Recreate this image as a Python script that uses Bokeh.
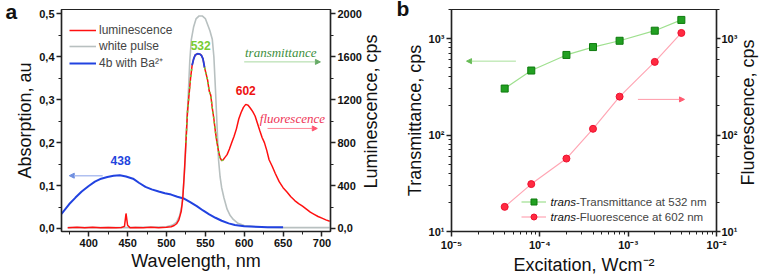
import math
from bokeh.plotting import figure
from bokeh.models import (Range1d, LinearAxis, LogAxis, SingleIntervalTicker, LogTicker, LogScale,
                          CustomJSTickFormatter, Legend, LegendItem, Label, Arrow, NormalHead)
from bokeh.layouts import row
from bokeh.embed import file_html
from bokeh.resources import INLINE

# ---------------- panel a data ----------------
lum_wl = [373, 385, 395, 405, 415, 425, 435, 442, 446, 448, 450, 453, 460, 470, 480, 490, 500, 506, 510,
          513, 516, 519, 521, 523, 525, 527, 529, 531, 533, 535, 537, 540, 543, 545, 547, 549, 551, 553,
          555, 557, 559, 561, 563, 565, 567, 569, 571, 573, 575, 578, 581, 584, 587, 590, 593, 596, 599,
          602, 605, 608, 611, 614, 617, 620, 623, 626, 629, 632, 636, 640, 645, 650, 655, 660, 665, 670,
          675, 680, 685, 690, 695, 700, 705, 710]
lum_cps = [8, 12, 6, 12, 8, 10, 6, 10, 20, 140, 30, 8, 10, 6, 12, 8, 12, 16, 28,
           44, 80, 160, 280, 520, 800, 1080, 1240, 1400, 1520, 1580, 1616, 1628, 1624, 1612, 1580, 1500, 1440, 1380,
           1280, 1240, 1120, 1020, 900, 800, 720, 660, 632, 640, 660, 688, 740, 800, 860, 928, 1020, 1080, 1128,
           1156, 1148, 1120, 1088, 1048, 980, 912, 848, 800, 728, 640, 580, 512, 436, 380, 340, 296, 260, 232,
           208, 180, 152, 132, 112, 96, 80, 68]

pulse_wl = [373, 400, 450, 500, 508, 513, 517, 520, 522, 524, 526, 528, 530, 532, 535, 538, 542, 546, 550,
            554, 556, 559, 561, 563, 565, 567, 569, 571, 574, 578, 582, 586, 592, 600, 620, 650, 680, 710]
pulse_cps = [8, 8, 8, 16, 32, 60, 120, 220, 400, 620, 940, 1240, 1560, 1760, 1880, 1952, 1980, 1980, 1956,
             1880, 1840, 1760, 1600, 1300, 968, 640, 480, 380, 284, 180, 120, 84, 48, 28, 12, 8, 8, 8]

abs_wl = [365, 375, 383, 391, 400, 408, 416, 424, 432, 440, 448, 457, 465, 473, 481, 490, 498, 506, 514,
          522, 530, 539, 547, 555, 563, 571, 580, 588, 600, 615, 630, 650]
abs_au = [0.034, 0.057, 0.072, 0.086, 0.099, 0.109, 0.116, 0.120, 0.123, 0.124, 0.121, 0.116, 0.106, 0.097,
          0.091, 0.086, 0.082, 0.079, 0.074, 0.070, 0.062, 0.052, 0.042, 0.033, 0.025, 0.018, 0.012, 0.008,
          0.005, 0.004, 0.003, 0.003]

# ---------------- panel b data ----------------
exc = [4e-5, 8e-5, 2e-4, 4e-4, 8e-4, 2e-3, 4e-3]
trans_cps = [303, 466, 676, 816, 948, 1206, 1560]
fluor_cps = [18, 31, 57, 116, 250, 573, 1143]

SANS = "Liberation Sans"
SERIF = "Liberation Serif"


def style_axis(ax):
    ax.axis_line_width = 1.5
    ax.axis_line_color = "#222222"
    ax.major_tick_line_width = 1.5
    ax.major_tick_line_color = "#222222"
    ax.minor_tick_line_width = 1
    ax.minor_tick_line_color = "#222222"
    ax.major_tick_out = 5
    ax.major_tick_in = 0
    ax.minor_tick_out = 3
    ax.minor_tick_in = 0
    ax.major_label_text_font = SANS
    ax.major_label_text_font_size = "11px"
    ax.major_label_text_font_style = "bold"
    ax.major_label_text_color = "#111111"
    ax.axis_label_text_font = SANS
    ax.axis_label_text_font_size = "18px"
    ax.axis_label_text_font_style = "normal"
    ax.axis_label_text_color = "#111111"
    ax.axis_label_standoff = 1
    ax.major_label_standoff = 2


def side_label(p, side, x, y, text, **kw):
    p.add_layout(Label(x=x, y=y, x_units="screen", y_units="screen", text=text, **kw), side)


# ================= panel a =================
pa = figure(width=388, height=277, output_backend="svg", toolbar_location=None,
            x_range=Range1d(365, 711), y_range=Range1d(-0.007, 0.51),
            min_border_left=45, min_border_right=58, min_border_top=8, min_border_bottom=43)
pa.extra_y_ranges = {"lum": Range1d(-28, 2040)}
pa.xgrid.visible = False
pa.ygrid.visible = False
pa.outline_line_color = "#222222"
pa.outline_line_width = 1.2

pa.xaxis.ticker = SingleIntervalTicker(interval=50, num_minor_ticks=2)
pa.xaxis.axis_label = "Wavelength, nm"
pa.yaxis.ticker = SingleIntervalTicker(interval=0.1, num_minor_ticks=2)
pa.yaxis.formatter = CustomJSTickFormatter(code="return tick.toFixed(1).replace('.', ',');")
pa.yaxis.axis_label = "Absorption, au"
style_axis(pa.xaxis[0])
style_axis(pa.yaxis[0])

ra = LinearAxis(y_range_name="lum", ticker=SingleIntervalTicker(interval=400, num_minor_ticks=2),
                formatter=CustomJSTickFormatter(code="return tick == 0 ? '0,0' : tick.toFixed(0);"))
style_axis(ra)
pa.add_layout(ra, "right")

r_pulse = pa.line(pulse_wl, pulse_cps, y_range_name="lum", line_color="#b8c0c0", line_width=1.6)
r_abs = pa.line(abs_wl, abs_au, line_color="#2142e0", line_width=2)
r_lum = pa.line(lum_wl, lum_cps, y_range_name="lum", line_color="#ff1010", line_width=1.5)
# transmitted band overlay on the luminescence trace
ov_b = [(w, c) for w, c in zip(lum_wl, lum_cps) if 533 <= w <= 549]
pa.line([w for w, c in ov_b], [c for w, c in ov_b], y_range_name="lum", line_color="#2142e0", line_width=1.8)
ov_g = [(w, c) for w, c in zip(lum_wl, lum_cps) if 549 <= w <= 573]
pa.line([w for w, c in ov_g], [c for w, c in ov_g], y_range_name="lum", line_color="#66dd33",
        line_width=1.5, line_dash="2 3")
ov_g2 = [(w, c) for w, c in zip(lum_wl, lum_cps) if 525 <= w <= 533]
pa.line([w for w, c in ov_g2], [c for w, c in ov_g2], y_range_name="lum", line_color="#66dd33",
        line_width=1.5, line_dash="2 4")

leg_a = Legend(items=[LegendItem(label="luminescence", renderers=[r_lum]),
                      LegendItem(label="white pulse", renderers=[r_pulse]),
                      LegendItem(label="4b with Ba²⁺", renderers=[r_abs])],
               location=(8, 160), padding=0, spacing=0, margin=0,
               glyph_width=27, glyph_height=16, label_height=16, label_standoff=3,
               label_text_font=SANS, label_text_font_size="12px",
               border_line_alpha=0, background_fill_alpha=0)
pa.add_layout(leg_a)

side_label(pa, "left", 5, 232, "a", text_font=SANS, text_font_size="21px", text_font_style="bold",
           text_baseline="top", text_color="#111111")
side_label(pa, "right", 6, 120, "Luminescence, cps", angle=math.pi / 2, text_font=SANS, text_font_size="18px",
           text_align="center", text_baseline="middle", text_color="#111111")
pa.add_layout(Label(x=544, y=0.427, text="532", text_font=SANS, text_font_size="12px", text_font_style="bold",
                    text_color="#77cc33", text_align="center", text_baseline="middle"))
pa.add_layout(Label(x=602, y=0.322, text="602", text_font=SANS, text_font_size="12px", text_font_style="bold",
                    text_color="#ee1111", text_align="center", text_baseline="middle"))
pa.add_layout(Label(x=441, y=0.158, text="438", text_font=SANS, text_font_size="12px", text_font_style="bold",
                    text_color="#2244dd", text_align="center", text_baseline="middle"))
pa.add_layout(Label(x=647, y=0.41, text="transmittance", text_font=SERIF, text_font_size="13px",
                    text_font_style="italic", text_color="#3d8f3d", text_align="center", text_baseline="middle"))
pa.add_layout(Label(x=662, y=0.257, text="fluorescence", text_font=SERIF, text_font_size="13px",
                    text_font_style="italic", text_color="#ee3355", text_align="center", text_baseline="middle"))
pa.add_layout(Arrow(x_start=600, y_start=0.388, x_end=698, y_end=0.388, line_color="#a8d8a0", line_width=1,
                    end=NormalHead(size=5, fill_color="#66aa66", line_color="#66aa66")))
pa.add_layout(Arrow(x_start=630, y_start=0.233, x_end=694, y_end=0.233, line_color="#ff8a98", line_width=1,
                    end=NormalHead(size=5, fill_color="#ff5570", line_color="#ff5570")))
pa.add_layout(Arrow(x_start=418, y_start=0.123, x_end=375, y_end=0.123, line_color="#b0c0f0", line_width=1.5,
                    end=NormalHead(size=5, fill_color="#7090e0", line_color="#7090e0")))

# ================= panel b =================
pb = figure(width=372, height=277, output_backend="svg", toolbar_location=None,
            x_axis_type="log", y_axis_type="log",
            x_range=Range1d(1e-5, 1e-2), y_range=Range1d(10, 2000),
            min_border_left=47, min_border_right=43, min_border_top=9, min_border_bottom=42)
pb.extra_y_ranges = {"fl": Range1d(10, 2000)}
pb.extra_y_scales = {"fl": LogScale()}
pb.xgrid.visible = False
pb.ygrid.visible = False
pb.outline_line_color = "#222222"
pb.outline_line_width = 1.2

LOGFMT = """
const e = Math.round(Math.log(tick) / Math.LN10);
const sup = {'-':'\u207b','0':'\u2070','1':'\u00b9','2':'\u00b2','3':'\u00b3','4':'\u2074','5':'\u2075','6':'\u2076','7':'\u2077','8':'\u2078','9':'\u2079'};
let s = '10';
for (const c of String(e)) { s += sup[c]; }
return s;
"""
pb.xaxis.formatter = CustomJSTickFormatter(code=LOGFMT)
pb.yaxis.formatter = CustomJSTickFormatter(code=LOGFMT)
pb.xaxis.axis_label = "Excitation, Wcm⁻²"
pb.yaxis.axis_label = "Transmittance, cps"
style_axis(pb.xaxis[0])
style_axis(pb.yaxis[0])

rb = LogAxis(y_range_name="fl", ticker=LogTicker(), formatter=CustomJSTickFormatter(code=LOGFMT))
style_axis(rb)
rb.major_label_standoff = 1
rb.major_tick_out = 4
pb.add_layout(rb, "right")

g_line = pb.line(exc, trans_cps, line_color="#9fe08f", line_width=1.2)
g_pts = pb.scatter(exc, trans_cps, marker="square", size=7, fill_color="#22a022", line_color="#0d7a0d")
f_line = pb.line(exc, fluor_cps, y_range_name="fl", line_color="#ffa6b4", line_width=1.2)
f_pts = pb.scatter(exc, fluor_cps, y_range_name="fl", marker="circle", size=7, fill_color="#ff2a40",
                   line_color="#ee1030")

leg_b = Legend(items=[LegendItem(label="-Transmittance at 532 nm", renderers=[g_line, g_pts]),
                      LegendItem(label="-Fluorescence at 602 nm", renderers=[f_line, f_pts])],
               location=(70, 7), padding=0, spacing=0, margin=0,
               glyph_width=25, glyph_height=15, label_height=15, label_standoff=30,
               label_text_font=SANS, label_text_font_size="11.5px",
               border_line_alpha=0, background_fill_alpha=0)
pb.add_layout(leg_b)
for yy in (29.5, 14.5):
    pb.add_layout(Label(x=99, x_units="screen", y=yy, y_units="screen", text="trans", text_font=SANS,
                        text_font_size="11.5px", text_font_style="italic", text_baseline="middle",
                        text_color="#111111"))

side_label(pb, "left", 8, 235, "b", text_font=SANS, text_font_size="21px", text_font_style="bold",
           text_baseline="top", text_color="#111111")
side_label(pb, "right", 7, 119, "Fluorescence, cps", angle=math.pi / 2, text_font=SANS, text_font_size="18px",
           text_align="center", text_baseline="middle", text_color="#111111")
pb.add_layout(Arrow(x_start=5.36e-5, y_start=583, x_end=1.48e-5, y_end=583, line_color="#a8e09a", line_width=1,
                    end=NormalHead(size=5, fill_color="#66bb55", line_color="#66bb55")))
pb.add_layout(Arrow(x_start=1.29e-3, y_start=234, x_end=4.34e-3, y_end=234, line_color="#ff9aa8", line_width=1,
                    end=NormalHead(size=5, fill_color="#ff5a70", line_color="#ff5a70")))

layout = row(pa, pb)
open("out.html", "w").write(file_html(layout, INLINE))
